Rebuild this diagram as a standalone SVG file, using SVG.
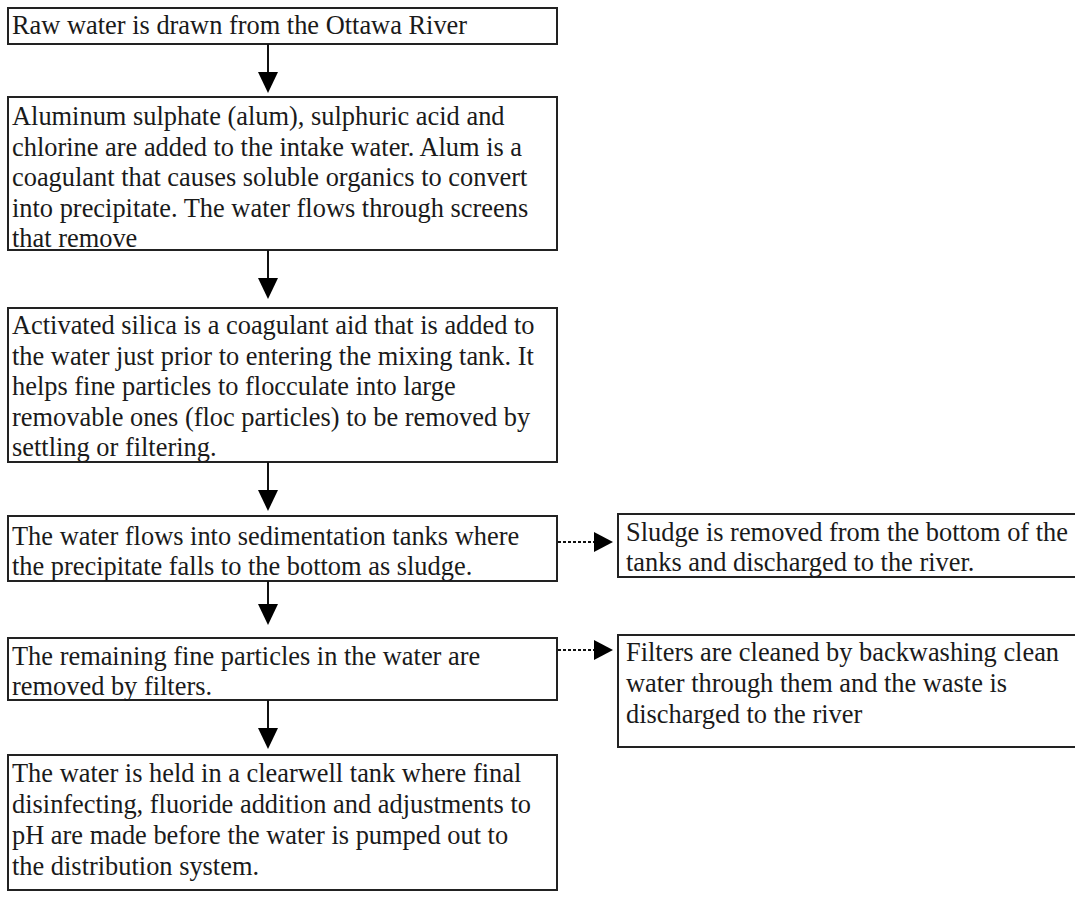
<svg xmlns="http://www.w3.org/2000/svg" width="1075" height="898" viewBox="0 0 1075 898">
<defs>
<style>
.box{fill:#fff;stroke:#222;stroke-width:2}
.t{font-size:26.4px;fill:#1a1a1a}
.c{stroke:#111;stroke-width:2;fill:none}
.d{stroke:#111;stroke-width:2;fill:none;stroke-dasharray:3 2}
.h{fill:#000}
</style>
</defs>
<rect width="1075" height="898" fill="#fff"/>
<g font-family="Liberation Serif, Times New Roman, serif">
<g id="n1"><rect class="box" x="8" y="8" width="549" height="36"/>
<text class="t" x="12" y="34">Raw water is drawn from the Ottawa River</text></g>
<g id="n2"><rect class="box" x="8" y="97" width="549" height="153"/>
<text class="t" x="12" y="125">Aluminum sulphate (alum), sulphuric acid and</text>
<text class="t" x="12" y="155.5">chlorine are added to the intake water. Alum is a</text>
<text class="t" x="12" y="186">coagulant that causes soluble organics to convert</text>
<text class="t" x="12" y="216.5">into precipitate. The water flows through screens</text>
<text class="t" x="12" y="247">that remove</text></g>
<g id="n3"><rect class="box" x="8" y="308" width="549" height="154"/>
<text class="t" x="12" y="334">Activated silica is a coagulant aid that is added to</text>
<text class="t" x="12" y="364.5">the water just prior to entering the mixing tank. It</text>
<text class="t" x="12" y="395">helps fine particles to flocculate into large</text>
<text class="t" x="12" y="425.5">removable ones (floc particles) to be removed by</text>
<text class="t" x="12" y="456">settling or filtering.</text></g>
<g id="n4"><rect class="box" x="8" y="516" width="549" height="65"/>
<text class="t" x="12" y="545">The water flows into sedimentation tanks where</text>
<text class="t" x="12" y="575">the precipitate falls to the bottom as sludge.</text></g>
<g id="n5"><rect class="box" x="8" y="638" width="549" height="62"/>
<text class="t" x="12" y="665">The remaining fine particles in the water are</text>
<text class="t" x="12" y="695">removed by filters.</text></g>
<g id="n6"><rect class="box" x="8" y="755" width="549" height="135"/>
<text class="t" x="12" y="782">The water is held in a clearwell tank where final</text>
<text class="t" x="12" y="813">disinfecting, fluoride addition and adjustments to</text>
<text class="t" x="12" y="844">pH are made before the water is pumped out to</text>
<text class="t" x="12" y="875">the distribution system.</text></g>
<g id="n7"><rect class="box" x="618" y="514" width="460" height="63"/>
<text class="t" x="626" y="541">Sludge is removed from the bottom of the</text>
<text class="t" x="626" y="571">tanks and discharged to the river.</text></g>
<g id="n8"><rect class="box" x="618" y="635" width="460" height="112"/>
<text class="t" x="626" y="661">Filters are cleaned by backwashing clean</text>
<text class="t" x="626" y="692">water through them and the waste is</text>
<text class="t" x="626" y="723">discharged to the river</text></g>
</g>
<g id="connectors">
<line class="c" x1="268" y1="44" x2="268" y2="72"/><polygon class="h" points="258,72 278,72 268,93"/>
<line class="c" x1="268" y1="250" x2="268" y2="278"/><polygon class="h" points="258,278 278,278 268,299"/>
<line class="c" x1="268" y1="462" x2="268" y2="490"/><polygon class="h" points="258,490 278,490 268,511"/>
<line class="c" x1="268" y1="581" x2="268" y2="604"/><polygon class="h" points="258,604 278,604 268,625"/>
<line class="c" x1="268" y1="700" x2="268" y2="728"/><polygon class="h" points="258,728 278,728 268,749"/>
<line class="d" x1="558" y1="542" x2="594" y2="542"/><polygon class="h" points="594,532 594,552 613,542"/>
<line class="d" x1="558" y1="650" x2="594" y2="650"/><polygon class="h" points="594,640 594,660 613,650"/>
</g>
</svg>
